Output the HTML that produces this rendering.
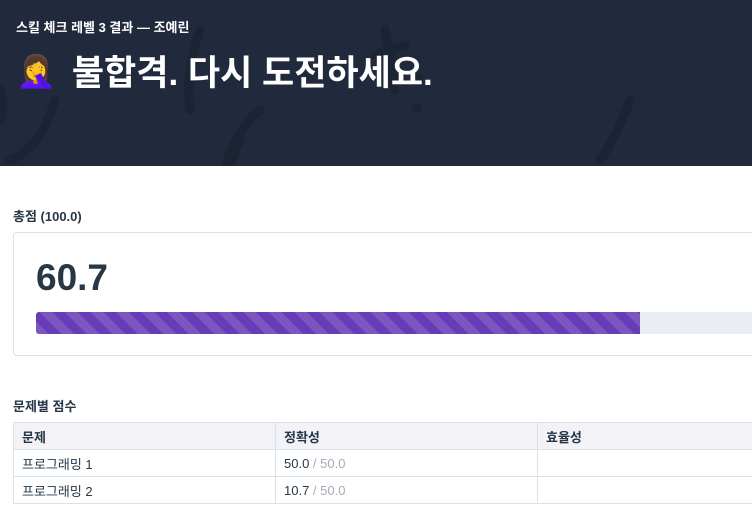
<!DOCTYPE html>
<html><head><meta charset="utf-8"><style>
*{margin:0;padding:0;box-sizing:border-box}
body{width:752px;height:525px;overflow:hidden;background:#fff;font-family:"Liberation Sans","Noto Sans CJK KR",sans-serif;color:#263747;position:relative}
.wrap{position:absolute;left:0;top:0;width:752px;height:525px;overflow:hidden}
.hdr{position:absolute;left:0;top:0;width:752px;height:166px;background:#212a3d;overflow:hidden}
.sub{position:absolute;left:16px;top:17px;font-size:13px;font-weight:bold;color:#fff}
.ttl{position:absolute;left:16px;top:45px;font-size:35px;font-weight:bold;color:#fff;display:flex;align-items:center}
.lab{position:absolute;left:13px;font-size:13px;font-weight:bold;color:#263747}
.card{position:absolute;left:13px;top:232px;width:760px;height:124px;border:1px solid #d7e2eb;border-radius:4px}
.big{position:absolute;left:22px;top:24px;font-size:37px;font-weight:bold;color:#263747}
.bar{position:absolute;left:22px;top:79px;width:760px;height:22px;background:#e9ecf3;border-radius:3px 0 0 3px;overflow:hidden}
.fill{height:100%;background:repeating-linear-gradient(45deg,#7b55c0 0 9px,#683bb7 9px 18px)}
table{position:absolute;left:13px;top:422px;width:780px;border-collapse:collapse;font-size:13px}
td,th{border:1px solid #d7e2eb;height:27px;padding:0 8px;text-align:left;color:#263747}
th{background:#f2f2f7;font-weight:bold}
td{font-weight:normal}
.g{color:#a5acb8}
</style></head><body>
<div class="wrap">
<div class="hdr">
<svg width="752" height="166" style="position:absolute;left:0;top:0">
<g stroke="#1b2434" stroke-width="9" fill="none" stroke-linecap="round">
<path d="M55 100 Q40 150 10 160"/><path d="M200 30 Q185 70 190 110"/><path d="M240 140 Q225 175 225 190"/>
<path d="M260 110 Q235 130 225 170"/><path d="M385 30 L395 90"/><path d="M375 55 L405 45"/>
<path d="M630 100 Q615 140 600 160"/><path d="M0 90 Q5 110 0 120"/>
</g><circle cx="418" cy="78" r="5" fill="#1b2434"/><circle cx="417" cy="108" r="5" fill="#1b2434"/></svg>
<div class="sub">스킬 체크 레벨 3 결과 — 조예린</div>
<div class="ttl"><span style="font-size:32px;margin-right:16px">🤦‍♀️</span>불합격. 다시 도전하세요.</div>
</div>
<div class="lab" style="top:206px">총점 (100.0)</div>
<div class="card">
<div class="big">60.7</div>
<div class="bar"><div class="fill" style="width:604px"></div></div>
</div>
<div class="lab" style="top:396px">문제별 점수</div>
<table>
<tr><th style="width:262px">문제</th><th style="width:262px">정확성</th><th>효율성</th></tr>
<tr><td>프로그래밍 1</td><td>50.0 <span class="g">/ 50.0</span></td><td></td></tr>
<tr><td>프로그래밍 2</td><td>10.7 <span class="g">/ 50.0</span></td><td></td></tr>
</table>
</div>
</body></html>
